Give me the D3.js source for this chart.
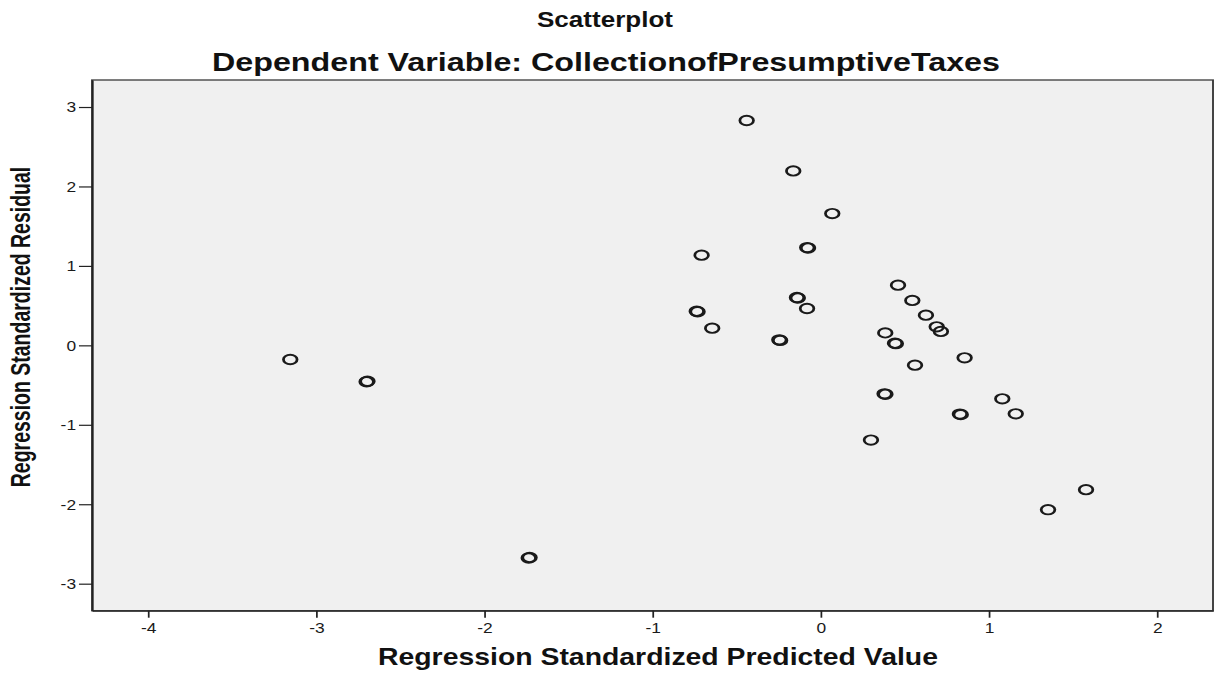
<!DOCTYPE html>
<html>
<head>
<meta charset="utf-8">
<script src="https://cdn.jsdelivr.net/npm/d3@7/dist/d3.min.js"></script>
<style>
  html, body { margin: 0; padding: 0; background: #ffffff; }
  svg { display: block; }
</style>
</head>
<body>
<div id="chart"></div>
<script>
// ---- Data ----
const chartTitle = "Scatterplot";
const chartSubtitle = "Dependent Variable: CollectionofPresumptiveTaxes";
const xAxisTitle = "Regression Standardized Predicted Value";
const yAxisTitle = "Regression Standardized Residual";

const xTicks = [-4, -3, -2, -1, 0, 1, 2];
const yTicks = [-3, -2, -1, 0, 1, 2, 3];

const predicted = [
  -0.440, -0.163, 0.069, -0.080, -0.075, -0.708,
  -3.154, -2.700, -2.695, -1.736, -1.731,
  0.460, 0.545, 0.626, 0.690, 0.715, 0.384, 0.442, 0.447,
  0.561, 0.856, 0.380, 0.385, 0.828, 0.833, 1.080, 1.160,
  0.299, 1.578, 1.352,
  -0.141, -0.136, -0.081, -0.737, -0.732, -0.645, -0.246, -0.241
];
const residual = [
  2.830, 2.195, 1.659, 1.231, 1.224, 1.135,
  -0.178, -0.459, -0.452, -2.677, -2.670,
  0.757, 0.565, 0.380, 0.233, 0.175, 0.157, 0.028, 0.021,
  -0.249, -0.157, -0.610, -0.617, -0.865, -0.872, -0.673, -0.862,
  -1.192, -1.817, -2.069,
  0.602, 0.595, 0.464, 0.430, 0.423, 0.216, 0.069, 0.062
];

// ---- Layout ----
const W = 1217, H = 677;
const sx = 1.45; // horizontal stretch of the reference picture
const tk = 0.8;  // horizontal squeeze of tick labels inside the stretched group
const font = "'Liberation Sans', Arial, Helvetica, sans-serif";

const svg = d3.select("#chart").append("svg")
  .attr("width", W).attr("height", H);

const g = svg.append("g").attr("transform", `scale(${sx},1)`);

const plotL = 92 / sx, plotR = 1213 / sx, plotT = 80, plotB = 610.7;

const x = d3.scaleLinear().domain([-4.333, 2.333]).range([plotL, plotR]);
const y = d3.scaleLinear().domain([-3.34, 3.34]).range([plotB, plotT]);

// plot background
g.append("rect")
  .attr("x", plotL).attr("y", plotT)
  .attr("width", plotR - plotL).attr("height", plotB - plotT)
  .attr("fill", "#f0f0f0")
  .attr("stroke", "#3a3a3a").attr("stroke-width", 1.3);

// axes
const yAxis = g.append("g")
  .attr("transform", `translate(${plotL},0)`)
  .call(d3.axisLeft(y).tickValues(yTicks).tickSize(9).tickSizeOuter(0).tickPadding(2)
        .tickFormat(d3.format("d")));
const xAxis = g.append("g")
  .attr("transform", `translate(0,${plotB})`)
  .call(d3.axisBottom(x).tickValues(xTicks).tickSize(7).tickSizeOuter(0).tickPadding(5)
        .tickFormat(d3.format("d")));

[xAxis, yAxis].forEach(a => {
  a.select(".domain").attr("stroke", "#222").attr("stroke-width", 1.3);
  a.selectAll(".tick line").attr("stroke", "#222").attr("stroke-width", 1.2);
  a.selectAll(".tick text")
    .attr("font-family", font).attr("font-size", 15).attr("fill", "#1a1a1a")
    .attr("transform", `scale(${tk},1)`)
    .text(d => d < 0 ? "-" + Math.abs(d) : String(d));
});
yAxis.selectAll(".tick text").attr("x", -11 / tk);

// points
const pts = predicted.map((p, i) => ({ p, r: residual[i] }));
g.append("g").selectAll("circle")
  .data(pts).join("circle")
  .attr("cx", d => x(d.p))
  .attr("cy", d => y(d.r))
  .attr("r", 4.7)
  .attr("fill", "none")
  .attr("stroke", "#1a1a1a")
  .attr("stroke-width", 1.9);

// titles (drawn unscaled, width fitted to the reference)
svg.append("text")
  .attr("x", 605).attr("y", 27)
  .attr("text-anchor", "middle")
  .attr("font-family", font).attr("font-weight", "bold").attr("font-size", 22)
  .attr("textLength", 136).attr("lengthAdjust", "spacingAndGlyphs")
  .attr("fill", "#111")
  .text(chartTitle);

svg.append("text")
  .attr("x", 606).attr("y", 71)
  .attr("text-anchor", "middle")
  .attr("font-family", font).attr("font-weight", "bold").attr("font-size", 25.5)
  .attr("textLength", 788).attr("lengthAdjust", "spacingAndGlyphs")
  .attr("fill", "#111")
  .text(chartSubtitle);

svg.append("text")
  .attr("x", 658).attr("y", 665)
  .attr("text-anchor", "middle")
  .attr("font-family", font).attr("font-weight", "bold").attr("font-size", 24)
  .attr("textLength", 560).attr("lengthAdjust", "spacingAndGlyphs")
  .attr("fill", "#111")
  .text(xAxisTitle);

g.append("text")
  .attr("transform", `translate(21,327) rotate(-90)`)
  .attr("text-anchor", "middle")
  .attr("font-family", font).attr("font-weight", "bold").attr("font-size", 19.5)
  .attr("fill", "#111")
  .text(yAxisTitle);
</script>
</body>
</html>
